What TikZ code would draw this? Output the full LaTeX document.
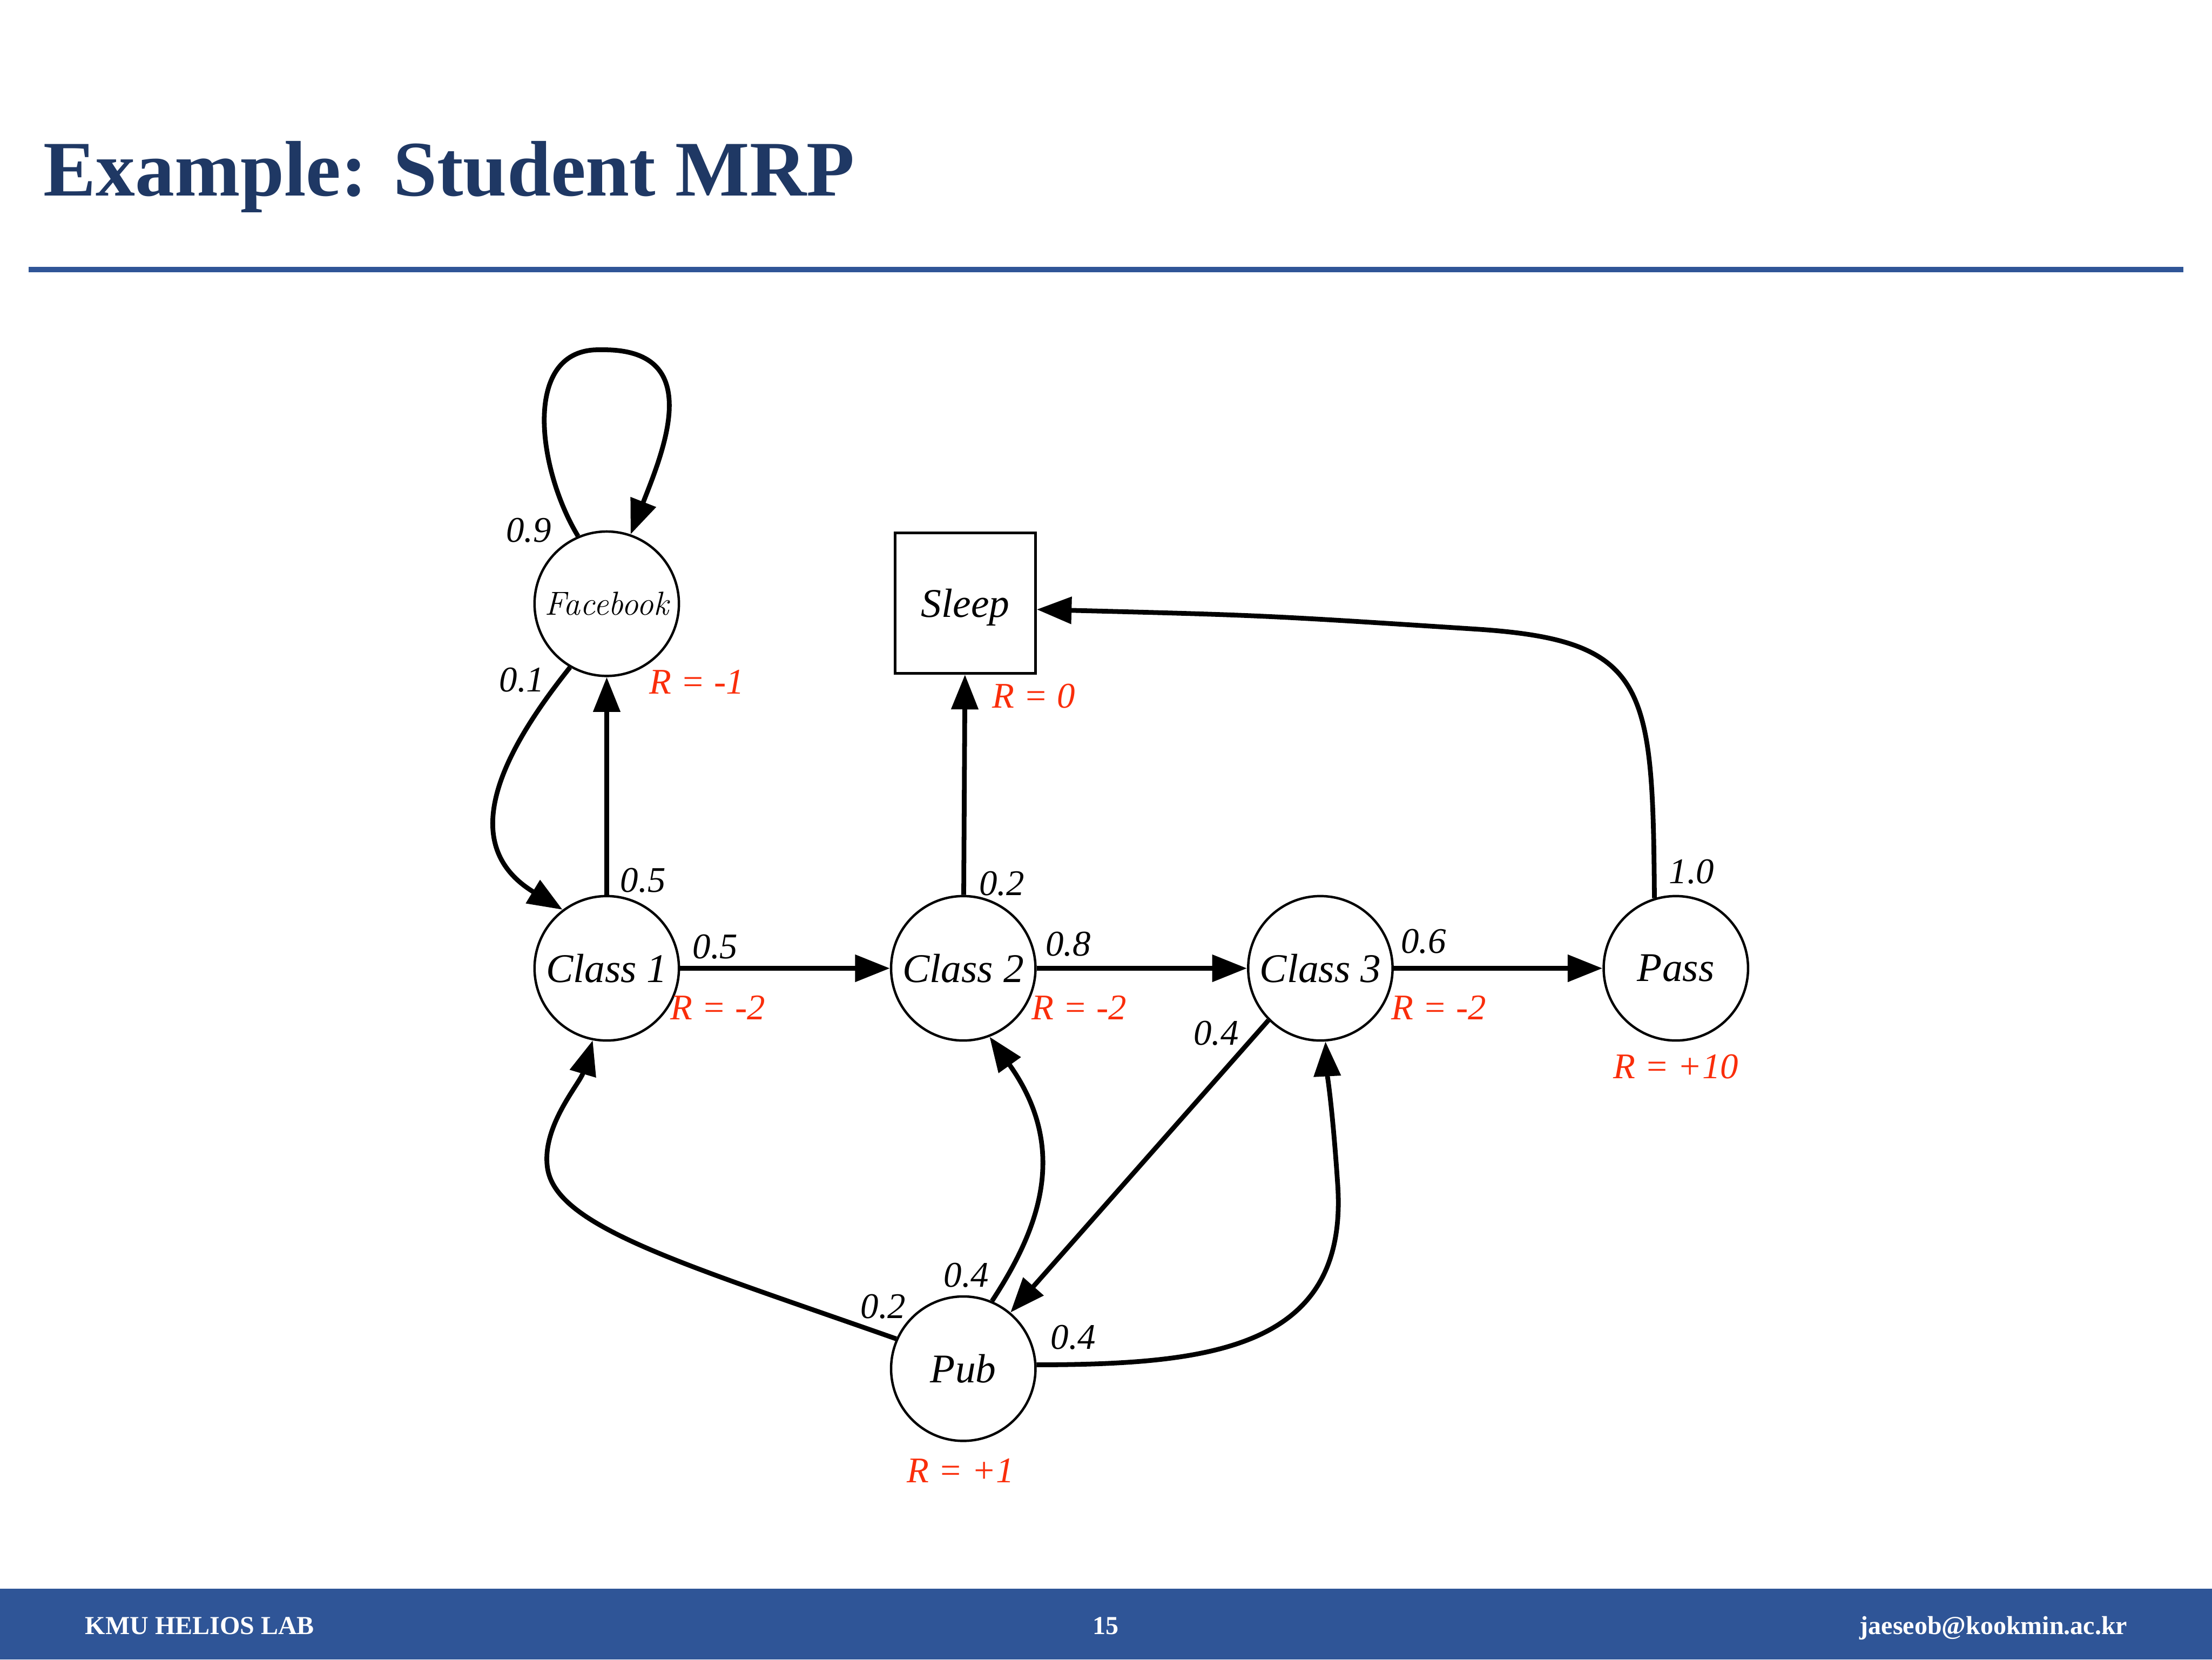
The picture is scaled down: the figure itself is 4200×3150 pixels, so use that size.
\documentclass[tikz,border=0pt]{standalone}
\usepackage{fontspec}
\newfontfamily\tnr{Liberation Serif}
\usetikzlibrary{arrows.meta}
\definecolor{navy}{RGB}{31,56,100}
\definecolor{bandblue}{RGB}{47,85,151}
\definecolor{rred}{RGB}{250,45,10}
\begin{document}
\begin{tikzpicture}[x=0.01cm,y=-0.01cm,
  st/.style={circle,draw,line width=1.3pt,minimum size=2.74cm,inner sep=0pt,
    font=\tnr\itshape\fontsize{22}{26}\selectfont},
  term/.style={rectangle,draw,line width=1.4pt,minimum width=2.66cm,minimum height=2.66cm,
    inner sep=0pt,text depth=0pt,font=\tnr\itshape\fontsize{22}{26}\selectfont},
  lab/.style={font=\tnr\itshape\fontsize{19.5}{23}\selectfont,inner sep=0pt},
  rew/.style={lab,text=rred},
  arr/.style={line width=0.09cm,-{Triangle[length=0.66cm,width=0.5cm]}},
  foot/.style={text=white,inner sep=0pt,font=\tnr\bfseries\fontsize{14}{16}\selectfont}
]
\useasboundingbox (0,0) rectangle (4200,3150);
\fill[white] (0,0) rectangle (4200,3150);

% header
\node[anchor=base west,text=navy,inner sep=0pt,font=\tnr\bfseries\fontsize{42.5}{50}\selectfont] (title) at (82,372) {Example: Student MRP};
\fill[bandblue] (54,507) rectangle (4146,517);

% footer
\fill[bandblue] (0,3016) rectangle (4200,3150);
\node[foot,anchor=base west] (lab1) at (161,3102) {KMU HELIOS LAB};
\node[foot,anchor=base] (page) at (2099,3102) {15};
\node[foot,anchor=base east] (mail) at (4040,3102) {jaeseob@kookmin.ac.kr};

% states
\node[st,font=\itshape\fontsize{18}{21}\selectfont] (fb) at (1152,1146) {Facebook};
\node[term] (sleep) at (1833,1145) {Sleep};
\node[st] (c1) at (1152,1838) {Class 1};
\node[st] (c2) at (1829,1838) {Class 2};
\node[st] (c3) at (2507,1838) {Class 3};
\node[st] (pass) at (3182,1838) {Pass};
\node[st] (pub) at (1829,2598) {Pub};

% edges
\draw[arr] (fb.113) .. controls (1020,890) and (990,660) .. (1140,664)
                    .. controls (1340,660) and (1262,850) .. (fb.71);
\draw[arr] (fb.240) .. controls (960,1420) and (860,1600) .. (c1.127);
\draw[arr] (c1) -- (fb);
\draw[arr] (c2) -- (sleep);
\draw[arr] (c1) -- (c2);
\draw[arr] (c2) -- (c3);
\draw[arr] (c3) -- (pass);
\draw[arr] (pass.107) .. controls (3138,1300) and (3130,1215) .. (2800,1194)
                      .. controls (2400,1168) .. (sleep.-5);
\draw[arr] (c3.225) -- (pub.50);
\draw[arr] (pub.156) .. controls (1300,2400) and (1060,2330) .. (1040,2220)
                     .. controls (1026,2140) and (1101,2057) .. (c1.259);
\draw[arr] (pub.67) .. controls (1975,2330) and (2030,2180) .. (c2.-69);
\draw[arr] (pub.3) .. controls (2300,2590) and (2560,2560) .. (2540,2250)
                   .. controls (2530,2100) and (2520,2040) .. (c3.-86);

% probabilities
\node[lab] (p09) at (1004,1007) {0.9};
\node[lab] (p01) at (991,1291) {0.1};
\node[lab] (p05a) at (1221,1671) {0.5};
\node[lab] (p02a) at (1902,1677) {0.2};
\node[lab] (p10) at (3212,1655) {1.0};
\node[lab] (p05b) at (1358,1797) {0.5};
\node[lab] (p08) at (2028,1792) {0.8};
\node[lab] (p06) at (2703,1787) {0.6};
\node[lab] (p04a) at (2309,1961) {0.4};
\node[lab] (p04b) at (1835,2421) {0.4};
\node[lab] (p02b) at (1677,2480) {0.2};
\node[lab] (p04c) at (2038,2539) {0.4};

% rewards
\node[rew] (rfb) at (1323,1294) {R = -1};
\node[rew] (rsl) at (1963,1321) {R = 0};
\node[rew] (rc1) at (1363,1913) {R = -2};
\node[rew] (rc2) at (2049,1913) {R = -2};
\node[rew] (rc3) at (2732,1913) {R = -2};
\node[rew] (rpa) at (3182,2025) {R = +10};
\node[rew] (rpu) at (1824,2791) {R = +1};
\end{tikzpicture}
\end{document}
